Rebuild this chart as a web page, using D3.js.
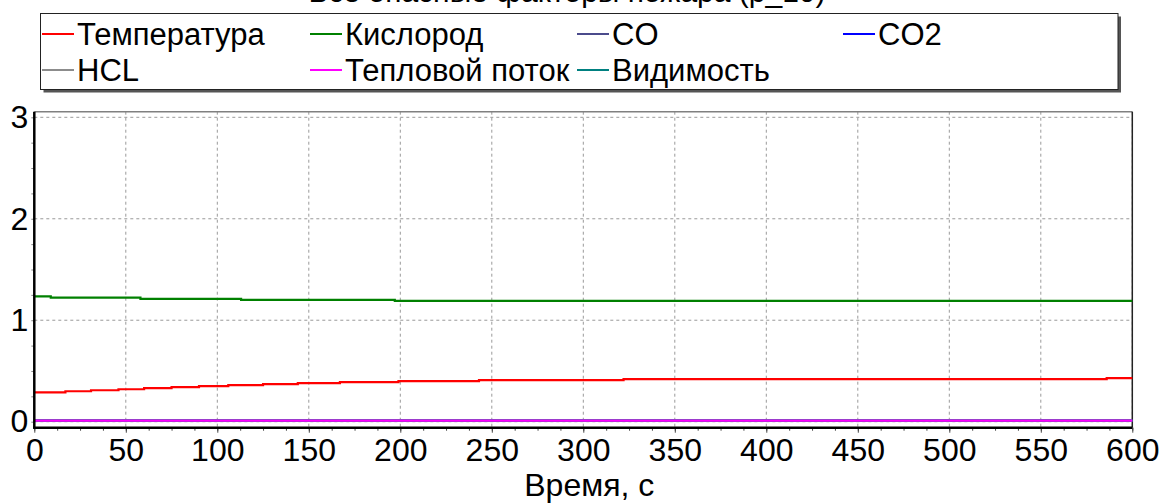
<!DOCTYPE html>
<html>
<head>
<meta charset="utf-8">
<script src="https://cdn.jsdelivr.net/npm/d3@7"></script>
<style>
  html, body { margin: 0; padding: 0; background: #fff; }
  svg { display: block; font-family: "Liberation Sans", Arial, sans-serif; }
</style>
</head>
<body>
<svg id="chart" width="1160" height="504"></svg>
<script>
// ---- data ----
const titleText = "Все опасные факторы пожара (р_10)";
const xAxisTitle = "Время, с";
const xTicks = [0, 50, 100, 150, 200, 250, 300, 350, 400, 450, 500, 550, 600];
const yTicks = [0, 1, 2, 3];

const seriesNames = ["Температура", "Кислород", "CO", "CO2", "HCL", "Тепловой поток", "Видимость"];
const seriesColors = ["#ff0000", "#008000", "#4b4b8c", "#0000ff", "#8c8c8c", "#ff00ff", "#008080"];

const tempTime   = [0, 17, 31, 46, 60, 75, 90, 106, 125, 144, 167, 199, 243, 322, 586, 600];
const tempValues = [0.29, 0.30, 0.31, 0.32, 0.33, 0.34, 0.35, 0.36, 0.37, 0.38, 0.39, 0.40, 0.41, 0.42, 0.43, 0.43];
const oxyTime    = [0, 9, 58, 113, 197, 600];
const oxyValues  = [1.235, 1.222, 1.21, 1.20, 1.19, 1.19];
const coTime     = [0, 600];
const coValues   = [0.01, 0.01];
const co2Time    = [0, 600];
const co2Values  = [0.01, 0.01];
const hclTime    = [0, 600];
const hclValues  = [0.01, 0.01];
const heatTime   = [0, 600];
const heatValues = [0.01, 0.01];
const visTime    = [0, 600];
const visValues  = [0.01, 0.01];

const seriesData = [
  {name: seriesNames[0], color: seriesColors[0], t: tempTime, v: tempValues},
  {name: seriesNames[1], color: seriesColors[1], t: oxyTime,  v: oxyValues},
  {name: seriesNames[2], color: seriesColors[2], t: coTime,   v: coValues},
  {name: seriesNames[3], color: seriesColors[3], t: co2Time,  v: co2Values},
  {name: seriesNames[4], color: seriesColors[4], t: hclTime,  v: hclValues},
  {name: seriesNames[5], color: seriesColors[5], t: heatTime, v: heatValues},
  {name: seriesNames[6], color: seriesColors[6], t: visTime,  v: visValues}
];

// ---- layout ----
const svg = d3.select("#chart");
const plot = {left: 34.3, right: 1132.3, top: 111.7, bottom: 427.7};

const x = d3.scaleLinear().domain([0, 600]).range([plot.left, plot.right]);
const y = d3.scaleLinear().domain([0, 3]).range([421.7, 117.3]);

// title (mostly clipped at top, as in the reference)
svg.append("text")
  .attr("x", 567).attr("y", 2)
  .attr("text-anchor", "middle")
  .attr("font-size", 30)
  .attr("fill", "#000")
  .text(titleText);

// grid
const grid = svg.append("g");
grid.selectAll("line.vg").data(xTicks.slice(1)).enter().append("line")
  .attr("x1", d => x(d)).attr("x2", d => x(d))
  .attr("y1", plot.top).attr("y2", plot.bottom)
  .attr("stroke", "#999").attr("stroke-width", 1).attr("stroke-dasharray", "3,3");
grid.selectAll("line.hg").data(yTicks).enter().append("line")
  .attr("x1", plot.left).attr("x2", plot.right)
  .attr("y1", d => y(d)).attr("y2", d => y(d))
  .attr("stroke", "#999").attr("stroke-width", 1).attr("stroke-dasharray", "3,3");

// top/right frame
svg.append("line").attr("x1", plot.left).attr("x2", plot.right)
  .attr("y1", plot.top).attr("y2", plot.top)
  .attr("stroke", "#808080").attr("stroke-width", 1.5);
svg.append("line").attr("x1", plot.right).attr("x2", plot.right)
  .attr("y1", plot.top).attr("y2", plot.bottom)
  .attr("stroke", "#222").attr("stroke-width", 1.5);

// lines (near-zero series first, heat flux drawn last on top)
const line = d3.line()
  .x(d => x(d[0])).y(d => y(d[1]))
  .curve(d3.curveStepAfter);
const drawOrder = [0, 1, 2, 3, 4, 6, 5];
svg.append("g").selectAll("path").data(drawOrder.map(i => seriesData[i])).enter().append("path")
  .attr("d", s => line(s.t.map((tt, i) => [tt, s.v[i]])))
  .attr("fill", "none")
  .attr("stroke", s => s.color)
  .attr("stroke-width", 2.2);

// x axis
const xAxisG = svg.append("g").attr("transform", `translate(0,${plot.bottom})`);
xAxisG.call(d3.axisBottom(x).tickValues(d3.range(0, 600.1, 12.5)).tickSize(3).tickFormat(""))
  .call(g => g.select(".domain").remove())
  .call(g => g.selectAll("line").attr("stroke", "#444"));
const xAxisMajor = svg.append("g").attr("transform", `translate(0,${plot.bottom})`);
xAxisMajor.call(d3.axisBottom(x).tickValues(xTicks).tickSize(5).tickPadding(6).tickFormat(d3.format("d")))
  .call(g => g.select(".domain").remove())
  .call(g => g.selectAll("line").attr("stroke", "#444"))
  .call(g => g.selectAll("text").attr("font-size", 32).attr("fill", "#000")
    .attr("font-family", "Liberation Sans, Arial, sans-serif").attr("dy", "0.71em"));

// y axis
const yAxisG = svg.append("g").attr("transform", `translate(${plot.left},0)`);
yAxisG.call(d3.axisLeft(y).tickValues(d3.range(0, 3.01, 0.25)).tickSize(3).tickFormat(""))
  .call(g => g.select(".domain").remove())
  .call(g => g.selectAll("line").attr("stroke", "#888"));
const yAxisMajor = svg.append("g").attr("transform", `translate(${plot.left},0)`);
yAxisMajor.call(d3.axisLeft(y).tickValues(yTicks).tickSize(0).tickPadding(6).tickFormat(d3.format("d")))
  .call(g => g.select(".domain").remove())
  .call(g => g.selectAll("text").attr("font-size", 32).attr("fill", "#000")
    .attr("font-family", "Liberation Sans, Arial, sans-serif"));

// axis lines
svg.append("line").attr("x1", plot.left).attr("x2", plot.left)
  .attr("y1", plot.top).attr("y2", plot.bottom + 1)
  .attr("stroke", "#000").attr("stroke-width", 2.5);
svg.append("line").attr("x1", plot.left - 1).attr("x2", plot.right)
  .attr("y1", plot.bottom).attr("y2", plot.bottom)
  .attr("stroke", "#000").attr("stroke-width", 2.5);

// x axis title
svg.append("text")
  .attr("x", (plot.left + plot.right) / 2 + 6).attr("y", 496)
  .attr("text-anchor", "middle").attr("font-size", 32).attr("fill", "#000")
  .text(xAxisTitle);

// legend
const lg = {x: 40.5, y: 13.5, w: 1077.5, h: 76};
svg.append("rect").attr("x", lg.x + 3).attr("y", lg.y + 3).attr("width", lg.w).attr("height", lg.h)
  .attr("fill", "#555");
svg.append("rect").attr("x", lg.x).attr("y", lg.y).attr("width", lg.w).attr("height", lg.h)
  .attr("fill", "#fff").attr("stroke", "#222").attr("stroke-width", 1);

const colX = [42, 310, 577, 843];
const rowY = [34, 70];
const legItems = svg.append("g").selectAll("g").data(seriesData).enter().append("g")
  .attr("transform", (d, i) => {
    let col, row;
    if (i < 4) { col = i; row = 0; }
    else { col = i - 4; row = 1; }
    return `translate(${colX[col]},${rowY[row]})`;
  });
legItems.append("line")
  .attr("x1", 0).attr("x2", 32).attr("y1", 0).attr("y2", 0)
  .attr("stroke", d => d.color).attr("stroke-width", 2);
legItems.append("text")
  .attr("x", 35).attr("y", 0).attr("dy", "0.36em")
  .attr("font-size", 31).attr("fill", "#000")
  .text(d => d.name);
</script>
</body>
</html>
